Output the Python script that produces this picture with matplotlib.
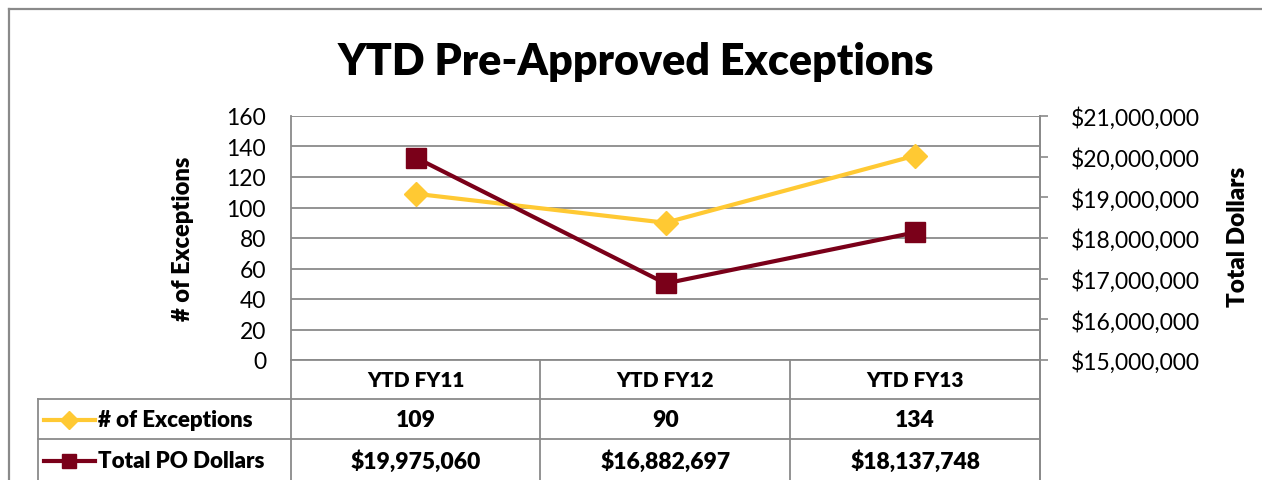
import matplotlib
matplotlib.use("Agg")
import matplotlib.pyplot as plt
from matplotlib.lines import Line2D
from matplotlib.ticker import FuncFormatter, MultipleLocator
from matplotlib import transforms

# Chart data
categories = ["YTD FY11", "YTD FY12", "YTD FY13"]
exceptions = [109, 90, 134]
po_dollars = [19975060, 16882697, 18137748]
series_names = ["# of Exceptions", "Total PO Dollars"]
title = "YTD Pre-Approved Exceptions"

YELLOW = "#FFC933"
MAROON = "#7A0019"
GRID = "#8A8A8A"
BOLD = 800

plt.rcParams['font.family'] = ['Lato', 'DejaVu Sans']

W, H = 1262, 481
fig = plt.figure(figsize=(W / 100, H / 100), dpi=100)


def fx(x):
    return x / W


def fy(y):
    return 1 - y / H


L, R, T, B = 291, 1040, 117, 361
ax = fig.add_axes([fx(L), fy(B), fx(R) - fx(L), fy(T) - fy(B)])
ax2 = ax.twinx()

x = list(range(len(categories)))
ax.set_xlim(-0.5, len(categories) - 0.5)
ax.set_ylim(0, 160)
ax.yaxis.set_major_locator(MultipleLocator(20))
ax2.set_ylim(15_000_000, 21_000_000)
ax2.yaxis.set_major_locator(MultipleLocator(1_000_000))
ax2.yaxis.set_major_formatter(FuncFormatter(lambda v, _: f"${v:,.0f}"))

ax.grid(axis='y', color=GRID, lw=1.3)
ax.set_xticks([])
ax.tick_params(axis='y', length=0, pad=18, labelsize=16.5)
ax2.tick_params(axis='y', length=6, width=1.2, color=GRID, pad=16, labelsize=16.5)

for a in (ax, ax2):
    for s in a.spines.values():
        s.set_color(GRID)
        s.set_linewidth(1.3)
ax.spines['top'].set_visible(False)
ax.spines['right'].set_visible(False)
ax2.spines['top'].set_visible(False)
ax2.spines['left'].set_visible(False)
ax2.spines['bottom'].set_visible(False)

ax.plot(x, exceptions, color=YELLOW, lw=3, marker='D', ms=12,
        clip_on=False, zorder=3)
ax2.plot(x, po_dollars, color=MAROON, lw=3, marker='s', ms=14,
         clip_on=False, zorder=3)

# Title and axis titles
fig.text(fx(636), fy(62), title, ha='center', va='center',
         fontsize=31, fontweight=BOLD)
fig.text(fx(183), fy(239), series_names[0], rotation=90, ha='center',
         va='center', fontsize=17, fontweight=BOLD)
fig.text(fx(1238), fy(237), "Total Dollars", rotation=90, ha='center',
         va='center', fontsize=17.5, fontweight=BOLD)


def fline(x0, y0, x1, y1, **kw):
    opts = dict(color=GRID, lw=1.3)
    opts.update(kw)
    fig.add_artist(Line2D([fx(x0), fx(x1)], [fy(y0), fy(y1)],
                          transform=fig.transFigure, **opts))


# Outer chart border
fline(9, 10, W, 10, lw=1.6)
fline(9, 10, 9, H, lw=1.6)

# Data table grid below the plot
for xc in (291, 540, 790, 1040):
    fline(xc, 361, xc, H)
fline(38, 400, 1040, 400)
fline(38, 440, 1040, 440)
fline(38, 400, 38, H)
fline(1040, 117, 1040, H)

# Table contents placed on the category scale
tx = transforms.blended_transform_factory(ax.transData, fig.transFigure)
row_y = [fy(421), fy(462)]
for i, cat in enumerate(categories):
    fig.text(i, fy(381), cat, transform=tx, ha='center', va='center',
             fontsize=15, fontweight=BOLD)
    fig.text(i, row_y[0], f"{exceptions[i]:,}", transform=tx, ha='center',
             va='center', fontsize=16.5, fontweight=BOLD)
    fig.text(i, row_y[1], f"${po_dollars[i]:,}", transform=tx, ha='center',
             va='center', fontsize=16.5, fontweight=BOLD)

# Legend keys inside the table
keys = [(YELLOW, 'D', 9), (MAROON, 's', 10.5)]
for (col, mk, ms), name, yy in zip(keys, series_names, row_y):
    fig.add_artist(Line2D([fx(44), fx(95)], [yy, yy], color=col, lw=3,
                          transform=fig.transFigure))
    fig.add_artist(Line2D([fx(69)], [yy], color=col, marker=mk, ms=ms,
                          lw=0, transform=fig.transFigure))
    fig.text(fx(98), yy, name, ha='left', va='center', fontsize=16,
             fontweight=BOLD)

fig.savefig("out.png", dpi=100, facecolor='white')
